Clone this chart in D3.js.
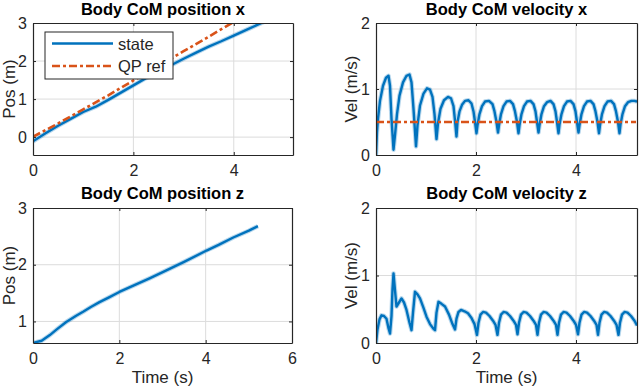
<!DOCTYPE html>
<html>
<head>
<meta charset="utf-8">
<script src="https://cdn.jsdelivr.net/npm/d3@7"></script>
<style>
  html, body { margin: 0; padding: 0; background: #fff; }
  text { font-family: "Liberation Sans", Arial, Helvetica, sans-serif; fill: #262626; }
</style>
</head>
<body>
<div id="chart"></div>
<script>
// ---- data ----
const posXTime = [0, 0.25, 0.5, 0.75, 1.0, 1.25, 1.5, 1.75, 2.0, 2.25, 2.5, 2.75, 3.0, 3.25, 3.5, 3.75, 4.0, 4.25, 4.5, 4.75, 5.0, 5.2];
const posXState = [-0.11, 0.1, 0.3, 0.48, 0.66, 0.8, 0.98, 1.17, 1.36, 1.55, 1.72, 1.89, 2.06, 2.22, 2.38, 2.52, 2.67, 2.82, 2.97, 3.12, 3.27, 3.4];
const qpTime = [0, 0.5, 1, 1.5, 2, 2.5, 3, 3.5, 4, 4.5, 5, 5.2];
const posXRef = [0.01, 0.36, 0.73, 1.1, 1.49, 1.87, 2.26, 2.64, 3.03, 3.41, 3.8, 3.95];
const velXRef = [0.5, 0.5, 0.5, 0.5, 0.5, 0.5, 0.5, 0.5, 0.5, 0.5, 0.5, 0.5];

const posZTime = [0, 0.2, 0.39, 0.55, 0.77, 1.0, 1.16, 1.35, 1.54, 1.75, 2.0, 2.35, 2.7, 3.09, 3.5, 4.02, 4.3, 4.64, 5.0, 5.21];
const posZState = [0.62, 0.66, 0.76, 0.86, 0.99, 1.1, 1.17, 1.26, 1.34, 1.42, 1.52, 1.64, 1.76, 1.9, 2.05, 2.25, 2.35, 2.48, 2.6, 2.68];

const velXTime = [
  0, 0.02, 0.04, 0.08, 0.14, 0.2, 0.25, 0.28, 0.31, 0.35,
  0.38, 0.42, 0.47, 0.54, 0.61, 0.67, 0.71, 0.75, 0.8,
  0.83, 0.88, 0.95, 1.02, 1.08, 1.13, 1.17, 1.21,
  1.24, 1.29, 1.36, 1.44, 1.5, 1.55, 1.58, 1.61,
  1.63, 1.67, 1.72, 1.78, 1.85, 1.91, 1.95, 1.98, 2.01,
  2.03, 2.07, 2.12, 2.18, 2.26, 2.33, 2.37, 2.41, 2.44,
  2.46, 2.5, 2.55, 2.61, 2.68, 2.74, 2.78, 2.82, 2.85,
  2.87, 2.91, 2.96, 3.02, 3.09, 3.15, 3.19, 3.22, 3.25,
  3.27, 3.31, 3.36, 3.42, 3.49, 3.55, 3.59, 3.62, 3.65,
  3.67, 3.71, 3.76, 3.82, 3.89, 3.95, 3.99, 4.02, 4.05,
  4.07, 4.11, 4.16, 4.22, 4.29, 4.35, 4.39, 4.43, 4.46,
  4.48, 4.52, 4.57, 4.63, 4.7, 4.76, 4.8, 4.84, 4.87,
  4.89, 4.93, 4.98, 5.04, 5.11, 5.17, 5.22
];
const velXState = [
  0, 0.35, 0.55, 0.82, 1.05, 1.17, 1.2, 1.05, 0.55, 0.08,
  0.3, 0.62, 0.9, 1.1, 1.2, 1.22, 1.1, 0.7, 0.13,
  0.45, 0.75, 0.93, 1.01, 0.99, 0.88, 0.62, 0.24,
  0.48, 0.7, 0.83, 0.88, 0.86, 0.74, 0.52, 0.28,
  0.5, 0.66, 0.76, 0.82, 0.83, 0.78, 0.66, 0.5, 0.33,
  0.45, 0.62, 0.74, 0.81, 0.82, 0.77, 0.66, 0.5, 0.34,
  0.45, 0.62, 0.74, 0.81, 0.82, 0.77, 0.66, 0.5, 0.33,
  0.45, 0.62, 0.74, 0.81, 0.82, 0.77, 0.66, 0.5, 0.34,
  0.45, 0.62, 0.74, 0.8, 0.82, 0.77, 0.66, 0.5, 0.33,
  0.46, 0.62, 0.74, 0.81, 0.82, 0.77, 0.66, 0.5, 0.34,
  0.45, 0.62, 0.74, 0.81, 0.82, 0.77, 0.66, 0.5, 0.33,
  0.45, 0.62, 0.74, 0.81, 0.82, 0.77, 0.66, 0.5, 0.33,
  0.46, 0.62, 0.74, 0.8, 0.82, 0.82, 0.81
];

const velZTime = [
  0, 0.03, 0.07, 0.11, 0.16, 0.21, 0.25, 0.28, 0.31, 0.33, 0.35, 0.38, 0.41, 0.46, 0.51, 0.56, 0.61, 0.67, 0.71,
  0.74, 0.78, 0.83, 0.88, 0.95, 1.01, 1.08, 1.15, 1.18,
  1.21, 1.25, 1.31, 1.38, 1.46, 1.53, 1.58,
  1.61, 1.65, 1.7, 1.77, 1.84, 1.91, 1.97, 2.02,
  2.05, 2.09, 2.14, 2.2, 2.27, 2.34, 2.39, 2.43,
  2.46, 2.5, 2.55, 2.61, 2.68, 2.75, 2.8, 2.83,
  2.86, 2.9, 2.95, 3.01, 3.08, 3.15, 3.2, 3.23,
  3.26, 3.3, 3.35, 3.41, 3.48, 3.55, 3.6, 3.63,
  3.66, 3.7, 3.75, 3.81, 3.88, 3.95, 4.0, 4.04,
  4.07, 4.11, 4.16, 4.22, 4.29, 4.36, 4.41, 4.44,
  4.47, 4.51, 4.56, 4.62, 4.69, 4.76, 4.81, 4.85,
  4.88, 4.92, 4.97, 5.03, 5.1, 5.17, 5.22
];
const velZState = [
  0, 0.2, 0.35, 0.41, 0.4, 0.36, 0.22, 0.14, 0.4, 0.8, 1.03, 0.78, 0.54, 0.6, 0.66, 0.6, 0.49, 0.3, 0.19,
  0.45, 0.76, 0.72, 0.66, 0.52, 0.39, 0.28, 0.21, 0.19,
  0.45, 0.61, 0.58, 0.54, 0.42, 0.28, 0.2,
  0.36, 0.46, 0.49, 0.47, 0.44, 0.37, 0.28, 0.12,
  0.3, 0.42, 0.46, 0.45, 0.4, 0.33, 0.27, 0.12,
  0.3, 0.42, 0.46, 0.45, 0.4, 0.33, 0.27, 0.13,
  0.3, 0.42, 0.46, 0.45, 0.4, 0.33, 0.27, 0.12,
  0.3, 0.42, 0.46, 0.45, 0.4, 0.33, 0.27, 0.12,
  0.3, 0.42, 0.46, 0.45, 0.4, 0.33, 0.27, 0.13,
  0.3, 0.42, 0.46, 0.45, 0.4, 0.33, 0.27, 0.12,
  0.3, 0.42, 0.46, 0.45, 0.4, 0.33, 0.27, 0.12,
  0.3, 0.42, 0.46, 0.45, 0.4, 0.33, 0.26
];

const timeTicks = [0, 2, 4];
const timeTicksWide = [0, 2, 4, 6];

const blue = "#0072BD";
const red = "#D95319";
const refDash = "8,3,3,3";

const svg = d3.select("#chart").append("svg")
  .attr("width", 640)
  .attr("height", 391);

const zip = (xs, ys) => xs.map((x, i) => [x, ys[i]]);

let clipId = 0;

const drawPanel = (p) => {
  const x = d3.scaleLinear().domain(p.xDomain).range([p.left, p.left + p.width]);
  const y = d3.scaleLinear().domain(p.yDomain).range([p.top + p.height, p.top]);
  const g = svg.append("g");

  // grid
  g.selectAll(".gx").data(p.xTicks.filter(t => t > p.xDomain[0] && t < p.xDomain[1])).enter()
    .append("line")
    .attr("x1", d => x(d)).attr("x2", d => x(d))
    .attr("y1", p.top).attr("y2", p.top + p.height)
    .style("stroke", "#dcdcdc").style("stroke-width", 1);
  g.selectAll(".gy").data(p.yTicks.filter(t => t > p.yDomain[0] && t < p.yDomain[1])).enter()
    .append("line")
    .attr("y1", d => y(d)).attr("y2", d => y(d))
    .attr("x1", p.left).attr("x2", p.left + p.width)
    .style("stroke", "#dcdcdc").style("stroke-width", 1);

  // clip so lines stop at the box
  const id = "clip" + (clipId++);
  svg.append("clipPath").attr("id", id)
    .append("rect")
    .attr("x", p.left).attr("y", p.top)
    .attr("width", p.width).attr("height", p.height);

  const line = d3.line().x(d => x(d[0])).y(d => y(d[1]));
  const plot = g.append("g").attr("clip-path", `url(#${id})`);

  p.series.forEach(s => {
    if (s.halo) {
      plot.append("path")
        .attr("d", line(s.data))
        .style("fill", "none")
        .style("stroke", s.color)
        .style("stroke-opacity", 0.28)
        .style("stroke-width", 4.5)
        .style("stroke-linejoin", "round");
    }
    plot.append("path")
      .attr("d", line(s.data))
      .style("fill", "none")
      .style("stroke", s.color)
      .style("stroke-width", s.width)
      .style("stroke-linejoin", "round")
      .style("stroke-dasharray", s.dash || null);
  });

  // axes (MATLAB-style box with inward ticks)
  const styleAxis = (sel) => {
    sel.selectAll("path").style("stroke", "#262626").style("stroke-width", 1.2);
    sel.selectAll("line").style("stroke", "#262626");
    sel.selectAll("text")
      .style("font-size", "16px")
      .style("fill", "#262626")
      .style("font-family", "'Liberation Sans', Arial, sans-serif");
  };
  g.append("g")
    .attr("transform", `translate(0,${p.top + p.height})`)
    .call(d3.axisBottom(x).tickValues(p.xTicks).tickSizeInner(-3).tickSizeOuter(0).tickPadding(9.5).tickFormat(d3.format("d")))
    .call(styleAxis);
  g.append("g")
    .attr("transform", `translate(0,${p.top})`)
    .call(d3.axisTop(x).tickValues(p.xTicks).tickSizeInner(-3).tickSizeOuter(0).tickFormat(""))
    .call(styleAxis);
  g.append("g")
    .attr("transform", `translate(${p.left},0)`)
    .call(d3.axisLeft(y).tickValues(p.yTicks).tickSizeInner(-3).tickSizeOuter(0).tickPadding(6).tickFormat(d3.format("d")))
    .call(styleAxis);
  g.append("g")
    .attr("transform", `translate(${p.left + p.width},0)`)
    .call(d3.axisRight(y).tickValues(p.yTicks).tickSizeInner(-3).tickSizeOuter(0).tickFormat(""))
    .call(styleAxis);
  g.selectAll(".domain").attr("fill", "none");

  // title
  svg.append("text")
    .attr("x", p.left + p.width / 2)
    .attr("y", p.titleY)
    .attr("text-anchor", "middle")
    .style("font-size", "16.5px")
    .style("font-weight", "bold")
    .style("fill", "#000")
    .text(p.title);

  // y label
  svg.append("text")
    .attr("transform", `translate(${p.yLabelX},${p.top + p.height / 2}) rotate(-90)`)
    .attr("text-anchor", "middle")
    .style("font-size", "17px")
    .text(p.yLabel);

  if (p.xLabel) {
    svg.append("text")
      .attr("x", p.left + p.width / 2)
      .attr("y", p.xLabelY)
      .attr("text-anchor", "middle")
      .style("font-size", "17px")
      .text(p.xLabel);
  }
  return { x, y };
};

drawPanel({
  left: 33, top: 23, width: 260, height: 132,
  xDomain: [0, 5.18], yDomain: [-0.47, 3],
  xTicks: timeTicks, yTicks: [0, 1, 2, 3],
  title: "Body CoM position x", titleY: 15,
  yLabel: "Pos (m)", yLabelX: 15,
  series: [
    { data: zip(posXTime, posXState), color: blue, width: 2.4, halo: true },
    { data: zip(qpTime, posXRef), color: red, width: 2.6, dash: refDash }
  ]
});

drawPanel({
  left: 376, top: 23, width: 261, height: 132,
  xDomain: [0, 5.22], yDomain: [0, 2],
  xTicks: timeTicks, yTicks: [0, 1, 2],
  title: "Body CoM velocity x", titleY: 15,
  yLabel: "Vel (m/s)", yLabelX: 357,
  series: [
    { data: zip(velXTime, velXState), color: blue, width: 2.4, halo: true },
    { data: zip(qpTime, velXRef), color: red, width: 2.6, dash: refDash }
  ]
});

drawPanel({
  left: 33, top: 208, width: 259, height: 135,
  xDomain: [0, 6], yDomain: [0.62, 3],
  xTicks: timeTicksWide, yTicks: [1, 2, 3],
  title: "Body CoM position z", titleY: 199,
  yLabel: "Pos (m)", yLabelX: 15,
  xLabel: "Time (s)", xLabelY: 383,
  series: [
    { data: zip(posZTime, posZState), color: blue, width: 2.4, halo: true }
  ]
});

drawPanel({
  left: 376, top: 208, width: 261, height: 135,
  xDomain: [0, 5.22], yDomain: [0, 2],
  xTicks: timeTicks, yTicks: [0, 1, 2],
  title: "Body CoM velocity z", titleY: 199,
  yLabel: "Vel (m/s)", yLabelX: 357,
  xLabel: "Time (s)", xLabelY: 383,
  series: [
    { data: zip(velZTime, velZState), color: blue, width: 2.4, halo: true }
  ]
});

// legend (top-left panel)
const legend = svg.append("g");
legend.append("rect")
  .attr("x", 45).attr("y", 32).attr("width", 128).attr("height", 47)
  .style("fill", "#fff").style("stroke", "#262626").style("stroke-width", 1);
const legendItems = [
  { label: "state", color: blue, dash: null },
  { label: "QP ref", color: red, dash: refDash }
];
legendItems.forEach((d, i) => {
  const cy = 43.5 + i * 22.5;
  legend.append("line")
    .attr("x1", 52).attr("x2", 113).attr("y1", cy).attr("y2", cy)
    .style("stroke", d.color).style("stroke-width", 2.6)
    .style("stroke-dasharray", d.dash);
  legend.append("text")
    .attr("x", 118).attr("y", cy + 6)
    .style("font-size", "16.5px")
    .text(d.label);
});
</script>
</body>
</html>
